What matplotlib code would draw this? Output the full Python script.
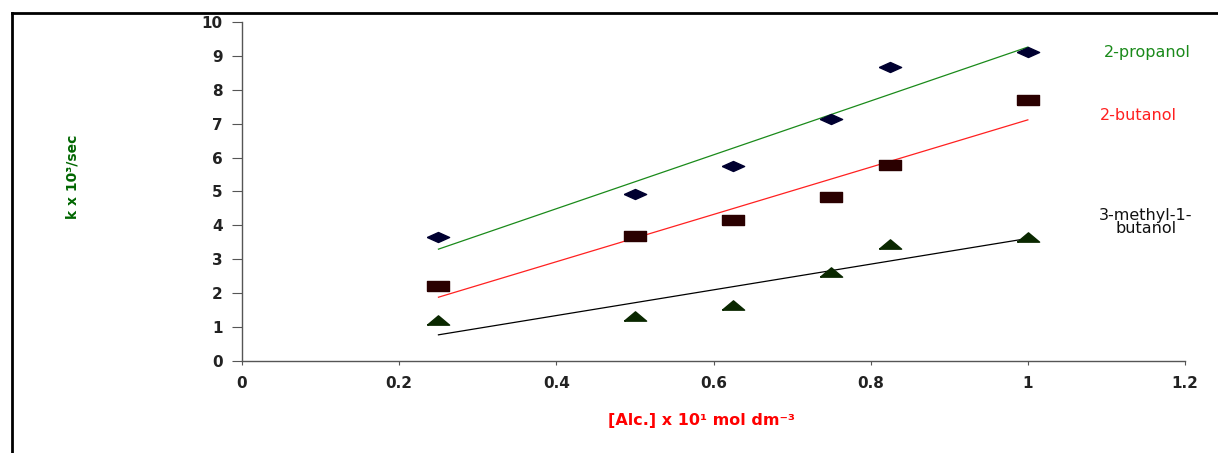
import numpy as np
import matplotlib; matplotlib.use("Agg")
import matplotlib.pyplot as plt
from matplotlib.lines import Line2D

# ── Data ──────────────────────────────────────────────────────────────
conc = [0.25, 0.5, 0.625, 0.75, 0.825, 1.0]
k_propanol = [3.66, 4.93, 5.75, 7.14, 8.67, 9.12]
k_butanol = [2.21, 3.69, 4.16, 4.84, 5.78, 7.70]
k_methylbutanol = [1.20, 1.33, 1.65, 2.63, 3.45, 3.66]

series_names = ["2-propanol", "2-butanol", "3-methyl-1-\nbutanol"]

fig = plt.figure(figsize=(12.18, 4.53), dpi=100)
ax = fig.add_axes([242 / 1218, 1 - 361 / 453, (1185 - 242) / 1218, (361 - 22) / 453])

# flat markers like the original
diamond = [(-1, 0), (0, 0.45), (1, 0), (0, -0.45), (-1, 0)]
rect = [(-1, -0.42), (1, -0.42), (1, 0.42), (-1, 0.42), (-1, -0.42)]
tri = [(-1, -0.42), (1, -0.42), (0, 0.42), (-1, -0.42)]

styles = [
    (k_propanol, diamond, "#000030", "#1a8a1a"),
    (k_butanol, rect, "#2a0000", "#ff2020"),
    (k_methylbutanol, tri, "#0a2800", "#000000"),
]

x = np.array(conc)
for ys, mk, mcol, lcol in styles:
    ax.plot(x, ys, ls="none", marker=mk, ms=16, color=mcol, mec=mcol, zorder=3)
    m, b = np.polyfit(x, ys, 1)
    xl = np.array([x.min(), x.max()])
    ax.plot(xl, m * xl + b, color=lcol, lw=0.9, zorder=2)

ax.set_xlim(0, 1.2)
ax.set_ylim(0, 10)
ax.set_xticks([0, 0.2, 0.4, 0.6, 0.8, 1.0, 1.2])
ax.set_xticklabels(["0", "0.2", "0.4", "0.6", "0.8", "1", "1.2"])
ax.set_yticks(range(0, 11))
for s in ["top", "right"]:
    ax.spines[s].set_visible(False)
for s in ["left", "bottom"]:
    ax.spines[s].set_color("#555555")
    ax.spines[s].set_linewidth(1.0)
ax.tick_params(axis="y", direction="out", length=7, color="#555555", pad=7,
               labelsize=11)
ax.tick_params(axis="x", direction="out", length=3, color="#555555", pad=8,
               labelsize=11)
for lab in ax.get_xticklabels() + ax.get_yticklabels():
    lab.set_fontweight("bold")
    lab.set_color("#222222")

# series labels
fig.text(1147 / 1218, 1 - 52 / 453, series_names[0], color="#1a8a1a",
         fontsize=11.5, ha="center", va="center")
fig.text(1138 / 1218, 1 - 116 / 453, series_names[1], color="#ff2020",
         fontsize=11.5, ha="center", va="center")
fig.text(1146 / 1218, 1 - 222 / 453, series_names[2], color="#111111",
         fontsize=11.5, ha="center", va="center", linespacing=0.9)

# axis titles
fig.text(73 / 1218, 1 - 177 / 453, "k x 10³/sec", color="#006600",
         fontsize=10, fontweight="bold", rotation=90, ha="center", va="center",
         family=["Liberation Sans Narrow", "DejaVu Sans"])
fig.text(702 / 1218, 1 - 421 / 453, "[Alc.] x 10¹ mol dm⁻³", color="#ff0000",
         fontsize=11.5, fontweight="bold", ha="center", va="center")

# outer frame (top and left only)
fig.add_artist(Line2D([12 / 1218, 1], [1 - 13 / 453] * 2, color="black", lw=2,
                      transform=fig.transFigure))
fig.add_artist(Line2D([12 / 1218] * 2, [0, 1 - 13 / 453], color="black", lw=2,
                      transform=fig.transFigure))

fig.savefig("out.png", dpi=100, facecolor="white")
